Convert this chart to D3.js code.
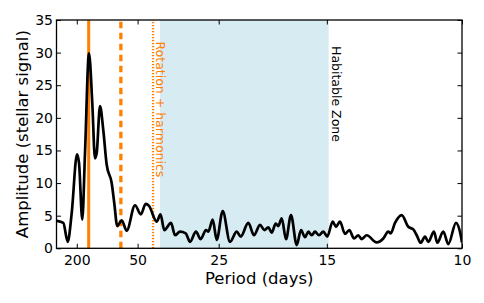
<!DOCTYPE html>
<html>
<head>
<meta charset="utf-8">
<script src="https://cdn.jsdelivr.net/npm/d3@7"></script>
<style>
  body { margin: 0; background: #fff; }
  svg text { font-family: "DejaVu Sans", sans-serif; }
</style>
</head>
<body>
<div id="mainChart"></div>
<script>
// frequency in units of 1e-3 per day, amplitude in stellar signal units
const freq = [
    0.10, 1.68, 2.76, 3.75, 5.06, 5.55, 6.36, 7.03, 8.01, 8.83,
    9.49, 9.91, 10.73, 11.54, 12.38, 13.61, 14.25, 14.99, 16.08, 17.31,
    19.36, 20.8, 22.0, 22.81, 24.71, 25.65, 26.58, 28.24, 29.22, 30.46,
    31.86, 32.92, 34.4, 35.56, 36.87, 37.44, 38.52, 39.51, 40.99, 42.79,
    44.44, 45.43, 47.3, 48.71, 50.18, 51.25, 52.23, 53.07, 54.06, 54.7,
    55.54, 56.6, 57.83, 59.24, 60.3, 61.28, 62.1, 62.93, 63.75, 64.74,
    65.8, 66.78, 68.11, 68.93, 69.91, 71.15, 72.21, 73.37, 74.43, 75.27,
    76.5, 78.96, 80.59, 81.82, 82.42, 83.48, 85.13, 86.76, 87.99, 88.83,
    89.82, 90.88, 91.69, 93.09, 93.9, 95.39, 96.62, 98.52, 99.68, 100.0
];
const amplitude = [
    4.2, 3.9, 1.0, 5.4, 14.4, 13.1, 4.4, 14.6, 29.9, 22.2,
    13.8, 14.6, 21.8, 18.1, 12.8, 10.0, 6.9, 3.4, 4.3, 2.7,
    6.6, 5.2, 6.8, 6.5, 4.1, 5.2, 2.8, 3.9, 2.0, 2.55,
    2.3, 1.0, 2.55, 1.4, 2.8, 2.55, 4.4, 1.3, 5.7, 1.0,
    2.55, 1.8, 3.9, 2.0, 3.6, 2.8, 3.2, 2.4, 3.8, 3.4,
    4.6, 1.4, 5.1, 0.5, 2.8, 1.7, 2.55, 2.0, 2.55, 2.0,
    2.55, 1.8, 4.1, 3.3, 4.1, 2.2, 2.8, 1.5, 2.0, 1.4,
    2.0, 0.9, 1.5, 2.55, 2.3, 3.9, 5.1, 3.3, 2.9, 2.0,
    0.85, 1.8, 1.0, 2.55, 0.85, 2.55, 0.65, 3.9, 2.0, 0.9
];

const periodTicks = [200, 50, 25, 15, 10];
const yTicks = [0, 5, 10, 15, 20, 25, 30, 35];

const rotationPeriod = 126;
const harmonicPeriods = [63, 42];
const habitableZone = [39.2, 14.9];   // periods in days

const CHART_SIZE = { width: 484, height: 303 };
const MARGIN = { top: 20, right: 22, bottom: 54.7, left: 56.5 };
const ORANGE = '#ff8000';

const x = d3.scaleLinear()
    .domain([0, 100])
    .range([MARGIN.left, CHART_SIZE.width - MARGIN.right]);
const y = d3.scaleLinear()
    .domain([0, 35])
    .range([CHART_SIZE.height - MARGIN.bottom, MARGIN.top]);
const fOf = p => 1000 / p;

const svg = d3.select('#mainChart')
    .append('svg')
    .attr('width', CHART_SIZE.width)
    .attr('height', CHART_SIZE.height);

// habitable zone band
svg.append('rect')
    .attr('x', x(fOf(habitableZone[0])))
    .attr('y', y(35))
    .attr('width', x(fOf(habitableZone[1])) - x(fOf(habitableZone[0])))
    .attr('height', y(0) - y(35))
    .attr('fill', '#d6ebf2');

// rotation + harmonics
const vline = (p, width, dash) => svg.append('line')
    .attr('x1', x(fOf(p))).attr('x2', x(fOf(p)))
    .attr('y1', y(0)).attr('y2', y(35))
    .attr('stroke', ORANGE)
    .attr('stroke-width', width)
    .attr('stroke-dasharray', dash);
vline(rotationPeriod, 3, null);
vline(harmonicPeriods[0], 3.3, '6.5,4.5');
vline(harmonicPeriods[1], 2.3, '1.3,1.7');

svg.append('text')
    .attr('transform', `translate(${x(fOf(harmonicPeriods[1])) + 2.5}, 41.5) rotate(90)`)
    .attr('font-size', 12.5)
    .attr('fill', ORANGE)
    .text('Rotation + harmonics');

svg.append('text')
    .attr('transform', `translate(${x(fOf(habitableZone[1])) + 3}, 46) rotate(90)`)
    .attr('font-size', 12.5)
    .attr('fill', '#000')
    .text('Habitable Zone');

// periodogram
const line = d3.line()
    .x((d, i) => x(freq[i]))
    .y(d => y(d))
    .curve(d3.curveMonotoneX);
svg.append('clipPath').attr('id', 'plotClip')
    .append('rect')
    .attr('x', x(0)).attr('y', y(35))
    .attr('width', x(100) - x(0)).attr('height', y(0) - y(35));
svg.append('path')
    .attr('clip-path', 'url(#plotClip)')
    .attr('d', line(amplitude))
    .attr('fill', 'none')
    .attr('stroke', '#000')
    .attr('stroke-width', 2.7)
    .attr('stroke-linejoin', 'round');

// axes, ticks pointing inward
const xVals = periodTicks.map(fOf);
const styleAxis = g => {
    g.select('.domain').remove();
    g.selectAll('.tick line').attr('stroke', '#000');
    g.selectAll('.tick text').attr('fill', '#000').attr('font-size', 14)
        .attr('font-family', '"DejaVu Sans", sans-serif');
};
svg.append('g')
    .attr('transform', `translate(0, ${y(0)})`)
    .call(d3.axisBottom(x).tickValues(xVals).tickFormat((d, i) => periodTicks[i])
        .tickSizeInner(-4.5).tickSizeOuter(0).tickPadding(7))
    .call(styleAxis);
svg.append('g')
    .attr('transform', `translate(0, ${y(35)})`)
    .call(d3.axisTop(x).tickValues(xVals).tickFormat('')
        .tickSizeInner(-4.5).tickSizeOuter(0))
    .call(styleAxis);
svg.append('g')
    .attr('transform', `translate(${x(0)}, 0)`)
    .call(d3.axisLeft(y).tickValues(yTicks)
        .tickSizeInner(-4.5).tickSizeOuter(0).tickPadding(3.5))
    .call(styleAxis);
svg.append('g')
    .attr('transform', `translate(${x(100)}, 0)`)
    .call(d3.axisRight(y).tickValues(yTicks).tickFormat('')
        .tickSizeInner(-4.5).tickSizeOuter(0))
    .call(styleAxis);

svg.append('rect')
    .attr('x', x(0)).attr('y', y(35))
    .attr('width', x(100) - x(0)).attr('height', y(0) - y(35))
    .attr('fill', 'none')
    .attr('stroke', '#000')
    .attr('stroke-width', 1.3);

svg.append('text')
    .attr('x', (x(0) + x(100)) / 2)
    .attr('y', 284)
    .attr('text-anchor', 'middle')
    .attr('font-size', 16.5)
    .text('Period (days)');

svg.append('text')
    .attr('transform', `translate(27.5, ${(y(0) + y(35)) / 2}) rotate(-90)`)
    .attr('text-anchor', 'middle')
    .attr('font-size', 16.5)
    .text('Amplitude (stellar signal)');
</script>
</body>
</html>
